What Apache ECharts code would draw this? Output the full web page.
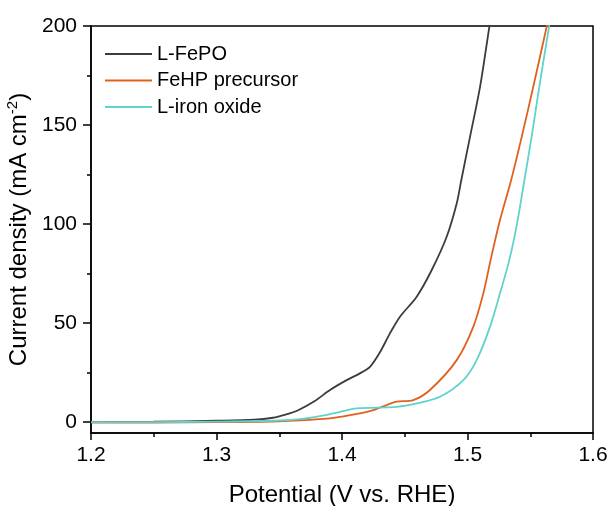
<!DOCTYPE html>
<html><head><meta charset="utf-8">
<script src="https://cdn.jsdelivr.net/npm/echarts@6/dist/echarts.min.js"></script>
<style>html,body{margin:0;padding:0;background:#fff}#c{width:611px;height:506px}</style>
</head><body><div id="c"></div>
<script>
var seriesNames = ['L-FePO', 'FeHP precursor', 'L-iron oxide'];
var xFePO = [1.20,1.25,1.30,1.33,1.345,1.355,1.365,1.378,1.3904,1.4037,1.4143,1.4223,1.43,1.4382,1.4462,1.4595,1.4715,1.4834,1.4914,1.495,1.502,1.510,1.5174,1.519];
var yFePO = [0,0.2,0.7,1.2,2.2,3.8,6,10.5,16.2,21.2,24.6,27.9,35,44.8,53.2,63.3,76.8,93.6,110.4,122,144,169.3,199.6,206];
var xFeHP = [1.20,1.25,1.30,1.35,1.3904,1.4064,1.425,1.4356,1.4436,1.4568,1.4701,1.4914,1.5046,1.5126,1.5184,1.5259,1.5347,1.5432,1.5524,1.5631,1.565];
var yFeHP = [-0.3,-0.2,0,0.4,1.9,3.5,6.1,8.6,10.3,11.1,16.2,31.3,48.1,65,81.8,102,122,144,169.3,199.6,205];
var xOxide = [1.20,1.25,1.30,1.35,1.37,1.3904,1.3984,1.4117,1.4436,1.4595,1.4781,1.4967,1.5073,1.5179,1.5259,1.5333,1.5394,1.5453,1.5511,1.5572,1.565,1.567];
var yOxide = [0,0,0.2,0.8,1.8,4,5.2,6.9,7.7,9.4,12.8,21.2,31.3,48.1,65,81.8,100,122,144,169.3,199.6,206];
var majorTicksY = [0, 50, 100, 150, 200];
var minorTicksY = [25, 75, 125, 175];
var colors = ['#3c3c3c', '#e2601e', '#5fd3cb'];

function pairs(xs, ys){ return xs.map(function(x,i){ return [x, ys[i]]; }); }
var allData = [pairs(xFePO,yFePO), pairs(xFeHP,yFeHP), pairs(xOxide,yOxide)];

var chart = echarts.init(document.getElementById('c'));
var font = 'Liberation Sans, Arial, sans-serif';
var axisCommon = {
  type: 'value', min: -5.5, max: 200, splitLine: {show: false}
};
chart.setOption({
  animation: false,
  backgroundColor: '#fff',
  grid: {left: 91, right: 18, top: 26, bottom: 73, containLabel: false, outerBoundsMode: 'none',
    show: true, borderColor: '#000', borderWidth: 1.5, backgroundColor: 'transparent'},
  legend: {
    data: seriesNames, orient: 'vertical', left: 105, top: 44, padding: 0, itemWidth: 47, itemHeight: 2, itemGap: 6.5, icon: 'rect',
    textStyle: {fontFamily: font, fontSize: 20, color: '#000', lineHeight: 20}
  },
  xAxis: {
    type: 'value', min: 1.2, max: 1.6, interval: 0.1,
    name: 'Potential (V vs. RHE)', nameLocation: 'middle', nameGap: 50,
    nameTextStyle: {fontFamily: font, fontSize: 24, color: '#000'},
    axisLine: {show: true, onZero: false, lineStyle: {color: '#000', width: 1.5}},
    axisTick: {show: true, inside: false, length: 7, lineStyle: {color: '#000', width: 1.5}},
    minorTick: {show: true, splitNumber: 2, length: 4, lineStyle: {color: '#000', width: 1.5}},
    splitLine: {show: false},
    axisLabel: {fontFamily: font, fontSize: 21, color: '#000', margin: 12, formatter: function(v){ return v.toFixed(1); }}
  },
  yAxis: [Object.assign({}, axisCommon, {
    name: '{a|Current density (mA cm}{s|-2}{a|)}', nameLocation: 'middle', nameGap: 35, nameRotate: 90,
    nameTextStyle: {fontFamily: font, fontSize: 24, color: '#000', rich: {
      a: {fontFamily: font, fontSize: 24, color: '#000'},
      s: {fontFamily: font, fontSize: 15, color: '#000', verticalAlign: 'top', padding: [0,0,12,0]}
    }},
    axisLine: {show: true, onZero: false, lineStyle: {color: '#000', width: 1.5}},
    axisTick: {show: true, inside: false, length: 8, lineStyle: {color: '#000', width: 1.5}, customValues: majorTicksY},
    axisLabel: {fontFamily: font, fontSize: 21, color: '#000', margin: 14, customValues: majorTicksY}
  }), Object.assign({}, axisCommon, {
    position: 'left',
    axisLine: {show: false},
    axisTick: {show: true, inside: false, length: 4, lineStyle: {color: '#000', width: 1.5}, customValues: minorTicksY},
    axisLabel: {show: false, customValues: minorTicksY}
  })],
  series: seriesNames.map(function(n,i){
    return {name: n, type: 'line', data: allData[i], symbol: 'none', smooth: 0.3,
      clip: true, lineStyle: {color: colors[i], width: 1.8}, itemStyle: {color: colors[i]}};
  })
});
</script>
</body></html>
